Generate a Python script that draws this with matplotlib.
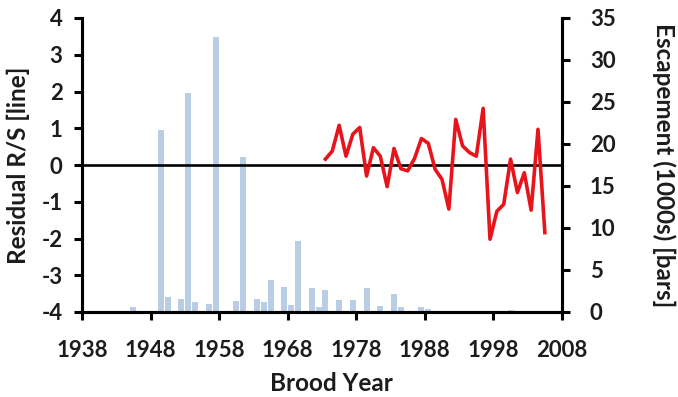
import numpy as np
import matplotlib
matplotlib.use("Agg")
import matplotlib.pyplot as plt

# Escapement by brood year (thousands of fish) -> bars, right axis
esc_years = np.array([1945, 1949, 1950, 1952, 1953, 1954, 1956, 1957, 1959, 1960,
                      1961, 1963, 1964, 1965, 1967, 1968, 1969, 1971, 1972, 1973,
                      1975, 1977, 1979, 1981, 1983, 1984, 1987, 1988, 2000])
escapement = np.array([0.6, 21.7, 1.8, 1.5, 26.1, 1.2, 1.0, 32.7, 0.1, 1.3,
                       18.5, 1.5, 1.2, 3.8, 3.0, 0.8, 8.5, 2.9, 0.6, 2.6,
                       1.4, 1.4, 2.9, 0.7, 2.1, 0.6, 0.6, 0.4, 0.2])

# Residual recruits-per-spawner by brood year -> line, left axis
rs_years = np.arange(1973, 2006)
residual_rs = np.array([0.16, 0.38, 1.08, 0.24, 0.84, 1.02, -0.30, 0.47, 0.24, -0.59,
                        0.45, -0.10, -0.16, 0.18, 0.72, 0.59, -0.12, -0.39, -1.20, 1.24,
                        0.52, 0.34, 0.24, 1.54, -2.02, -1.26, -1.07, 0.16, -0.75, -0.21,
                        -1.23, 0.97, -1.84])

x_ticks = np.arange(1938, 2009, 10)
left_ticks = np.arange(-4, 5, 1)
right_ticks = np.arange(0, 36, 5)

TEXT = '#1c1c1c'
plt.rcParams['font.family'] = ['Lato', 'DejaVu Sans']
plt.rcParams['font.weight'] = 'bold'
plt.rcParams['axes.unicode_minus'] = False
plt.rcParams['text.color'] = TEXT
plt.rcParams['axes.labelcolor'] = TEXT
plt.rcParams['xtick.labelcolor'] = TEXT
plt.rcParams['ytick.labelcolor'] = TEXT

fig = plt.figure(figsize=(6.78, 3.97), dpi=100)
ax = fig.add_axes([82 / 678, 1 - 312 / 397, (562 - 82) / 678, (312 - 18) / 397])
ax2 = ax.twinx()

# each year occupies the span [year, year+1]; marks sit in the middle of it
bar_x = esc_years + 0.5
line_x = rs_years + 0.5

ax2.bar(bar_x, escapement, width=0.88, color='#B9CDE5', linewidth=0)
ax.axhline(0, color='black', linewidth=1.9, zorder=2)
ax.plot(line_x, residual_rs, color='#E8141B', linewidth=2.6, zorder=3,
        solid_joinstyle='round')

ax.set_zorder(ax2.get_zorder() + 1)
ax.patch.set_visible(False)

ax.set_xlim(1938, 2008)
ax.set_ylim(-4, 4)
ax2.set_ylim(0, 35)
ax.set_xticks(x_ticks)
ax.set_yticks(left_ticks)
ax2.set_yticks(right_ticks)

for a in (ax, ax2):
    a.spines['top'].set_visible(False)
    for s in ('left', 'right', 'bottom'):
        a.spines[s].set_linewidth(2.2)

ax.tick_params(axis='both', labelsize=16, width=2.2, length=6, color='black')
ax.tick_params(axis='y', pad=8)
ax.tick_params(axis='x', pad=14)
ax2.tick_params(axis='y', labelsize=16, width=2.2, length=6, pad=14)

ax.set_ylabel('Residual R/S [line]', fontsize=17.5, fontweight='bold', labelpad=8)
ax2.set_ylabel('Escapement (1000s) [bars]', fontsize=17.5, fontweight='bold',
               rotation=270, labelpad=43)
ax.set_xlabel('Brood Year', fontsize=17.5, fontweight='bold', labelpad=8)
ax.xaxis.set_label_coords((331 - 82) / (562 - 82), -(372 - 312) / (312 - 18))
ax.xaxis.label.set_va('top')

fig.savefig('out.png', dpi=100)
